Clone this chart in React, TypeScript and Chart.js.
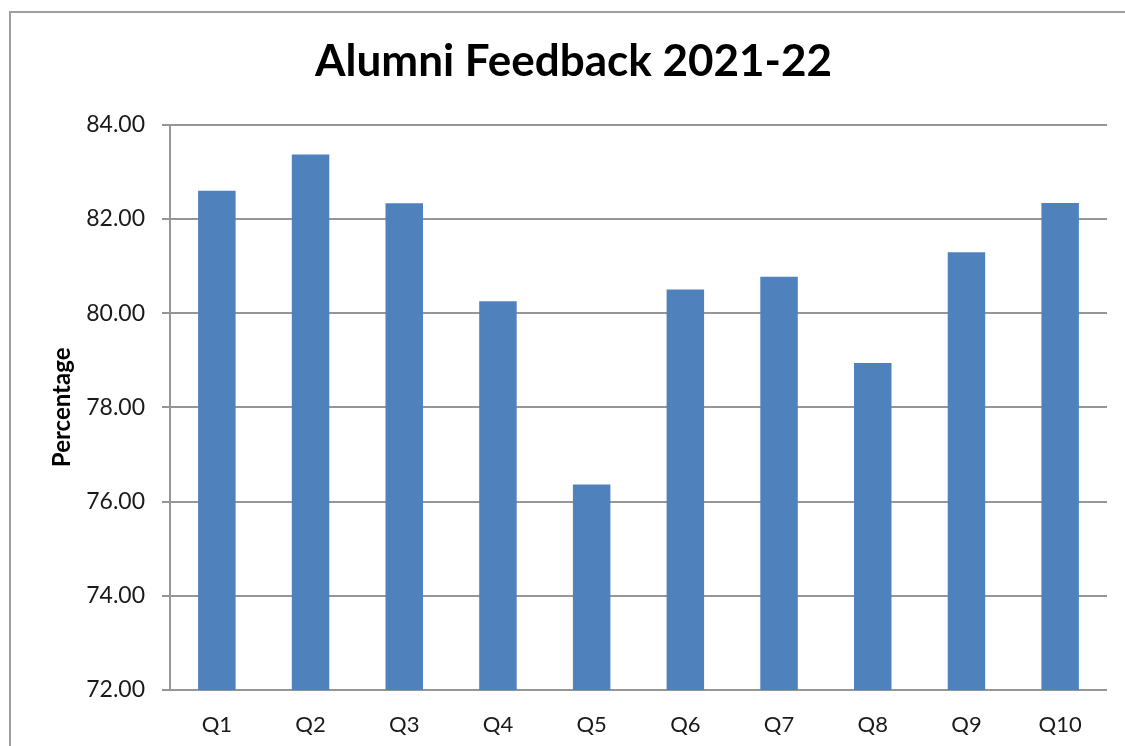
import React, { useEffect, useRef } from 'react';
import { Chart, registerables } from 'chart.js';

Chart.register(...registerables);

const chartTitle = 'Alumni Feedback 2021-22';
const yAxisTitle = 'Percentage';
const categories = ['Q1', 'Q2', 'Q3', 'Q4', 'Q5', 'Q6', 'Q7', 'Q8', 'Q9', 'Q10'];
const percentages = [82.6, 83.37, 82.33, 80.25, 76.36, 80.5, 80.77, 78.94, 81.29, 82.34];
const yTickValues = [72, 74, 76, 78, 80, 82, 84];

export default function App() {
  const ref = useRef<HTMLCanvasElement>(null);

  useEffect(() => {
    if (!ref.current) return;
    const chart = new Chart(ref.current, {
      type: 'bar',
      data: {
        labels: categories,
        datasets: [
          {
            label: yAxisTitle,
            data: percentages,
            backgroundColor: '#4F81BD',
            borderWidth: 0,
            barPercentage: 0.4,
            categoryPercentage: 1,
          },
        ],
      },
      options: {
        animation: false,
        responsive: false,
        layout: { padding: { left: 40, right: 18, top: 0, bottom: 0 } },
        plugins: {
          legend: { display: false },
          tooltip: { enabled: false },
          title: {
            display: true,
            text: chartTitle,
            color: '#000',
            font: { family: 'Lato', size: 44, weight: 'bold' },
            padding: { top: 35.6, bottom: 36.3 },
          },
        },
        scales: {
          x: {
            grid: { display: false, drawTicks: false },
            border: { display: false },
            ticks: {
              color: '#1a1a1a',
              font: { family: 'Lato', size: 22 },
              padding: 22,
            },
            afterFit: (s: any) => {
              s.height = 56;
            },
          },
          y: {
            min: yTickValues[0],
            max: yTickValues[yTickValues.length - 1],
            ticks: {
              stepSize: yTickValues[1] - yTickValues[0],
              callback: (v: any) => Number(v).toFixed(2),
              color: '#1a1a1a',
              font: { family: 'Lato', size: 23 },
              padding: 17,
            },
            grid: { color: '#969696', lineWidth: 2, tickLength: 8, drawTicks: true },
            border: { display: true, color: '#969696', width: 2 },
            title: {
              display: true,
              text: yAxisTitle,
              color: '#000',
              font: { family: 'Lato', size: 24, weight: 'bold' },
              padding: { top: 7.6, bottom: 0 },
            },
            afterFit: (s: any) => {
              s.width = 130;
            },
          },
        },
      },
    });
    return () => chart.destroy();
  }, []);

  return (
    <div
      style={{
        position: 'absolute',
        left: 0,
        top: 0,
        width: 1125,
        height: 746,
        overflow: 'hidden',
        background: '#fff',
      }}
    >
      <div
        style={{
          position: 'absolute',
          left: 9,
          top: 11,
          width: 1200,
          height: 800,
          borderLeft: '2px solid #9f9f9f',
          borderTop: '2px solid #9f9f9f',
        }}
      />
      <canvas
        ref={ref}
        width={1125}
        height={746}
        style={{ position: 'absolute', left: 0, top: 0, width: 1125, height: 746 }}
      />
    </div>
  );
}
